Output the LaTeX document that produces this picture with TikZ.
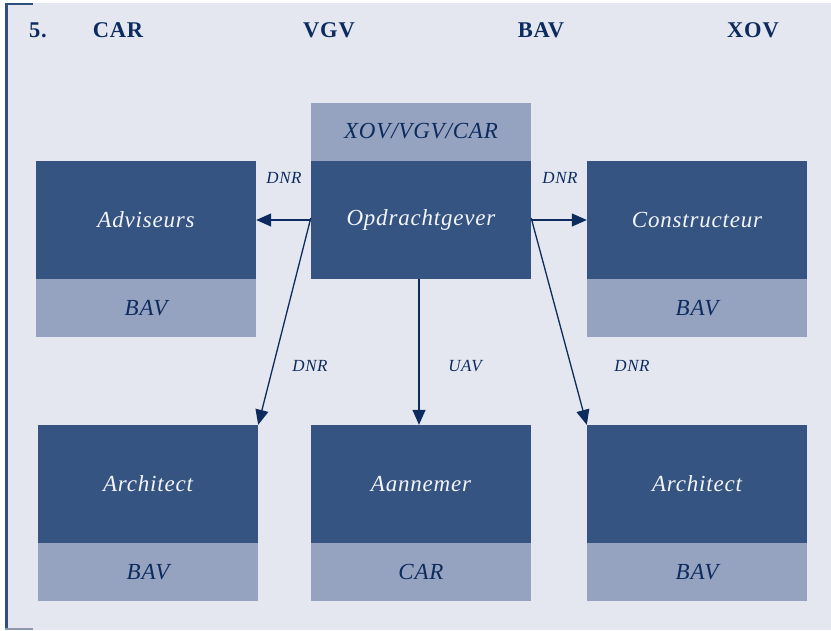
\documentclass[tikz,border=0pt]{standalone}
\usepackage{fontspec}
\setmainfont{Liberation Serif}
\newfontfamily\spacedserif[LetterSpace=3.5]{Liberation Serif}
\usetikzlibrary{arrows.meta}
\definecolor{pagebg}{HTML}{E4E7F0}
\definecolor{boxdark}{HTML}{355482}
\definecolor{boxlight}{HTML}{95A3C0}
\definecolor{navy}{HTML}{0D2B5E}
\definecolor{framecol}{HTML}{2F4F80}
\definecolor{ticklight}{HTML}{8E99B0}
\definecolor{paletext}{HTML}{F4F5F9}
\tikzset{
  darkbox/.style={rectangle, fill=boxdark, minimum width=220pt, minimum height=118pt,
    inner sep=0pt, text=paletext, font=\spacedserif\fontsize{23}{26}\selectfont\itshape},
  lightbox/.style={rectangle, fill=boxlight, minimum width=220pt, minimum height=58pt,
    inner sep=0pt, text=navy, font=\spacedserif\fontsize{23}{26}\selectfont\itshape},
  heading/.style={anchor=base, text=navy, inner sep=0pt, font=\spacedserif\fontsize{22.5}{25}\selectfont\bfseries},
  relabel/.style={text=navy, inner sep=0pt, font=\spacedserif\fontsize{17}{20}\selectfont\itshape},
  link/.style={draw=navy, line width=1.3pt, -{Triangle[length=15pt,width=13pt]}}
}
\begin{document}
\begin{tikzpicture}[x=1pt,y=-1pt]
  \useasboundingbox (0,0) rectangle (831,630);
  % page background and left frame
  \fill[pagebg] (6,3) rectangle (831,630);
  \fill[framecol] (5,3) rectangle (7.5,630);
  \fill[framecol] (5,3) rectangle (33,5);
  \fill[ticklight] (5,628) rectangle (33,630);

  % headings
  \node[heading] (num) at (38,37) {5.};
  \node[heading] (hcar) at (118,37) {CAR};
  \node[heading] (hvgv) at (329,37) {VGV};
  \node[heading] (hbav) at (541,37) {BAV};
  \node[heading] (hxov) at (753,37) {XOV};

  % client
  \node[lightbox] (opdL) at (421,131.5) {XOV/VGV/CAR};
  \node[darkbox]  (opd)  at (421,220) {Opdrachtgever};

  % upper row
  \node[darkbox]  (adv)  at (146,220) {Adviseurs};
  \node[lightbox] (advL) at (146,308) {BAV};
  \node[darkbox]  (con)  at (697,220) {Constructeur};
  \node[lightbox] (conL) at (697,308) {BAV};

  % lower row
  \node[darkbox]  (archA)  at (148,484) {Architect};
  \node[lightbox] (archAL) at (148,572) {BAV};
  \node[darkbox]  (aan)    at (421,484) {Aannemer};
  \node[lightbox] (aanL)   at (421,572) {CAR};
  \node[darkbox]  (archB)  at (697,484) {Architect};
  \node[lightbox] (archBL) at (697,572) {BAV};

  % contract relations
  \draw[link] (opd.west) -- (adv.east);
  \draw[link] (opd.east) -- (con.west);
  \draw[link] ([yshift=2pt]opd.west) -- (archA.north east);
  \draw[link] ([yshift=2pt]opd.east) -- (archB.north west);
  \draw[link] ([xshift=-2pt]opd.south) -- ([xshift=-2pt]aan.north);

  % relation labels
  \node[relabel] (dnrA) at (284,178) {DNR};
  \node[relabel] (dnrB) at (560,178) {DNR};
  \node[relabel] (dnrC) at (310,366) {DNR};
  \node[relabel] (uav)  at (465,366) {UAV};
  \node[relabel] (dnrD) at (632,366) {DNR};
\end{tikzpicture}
\end{document}
